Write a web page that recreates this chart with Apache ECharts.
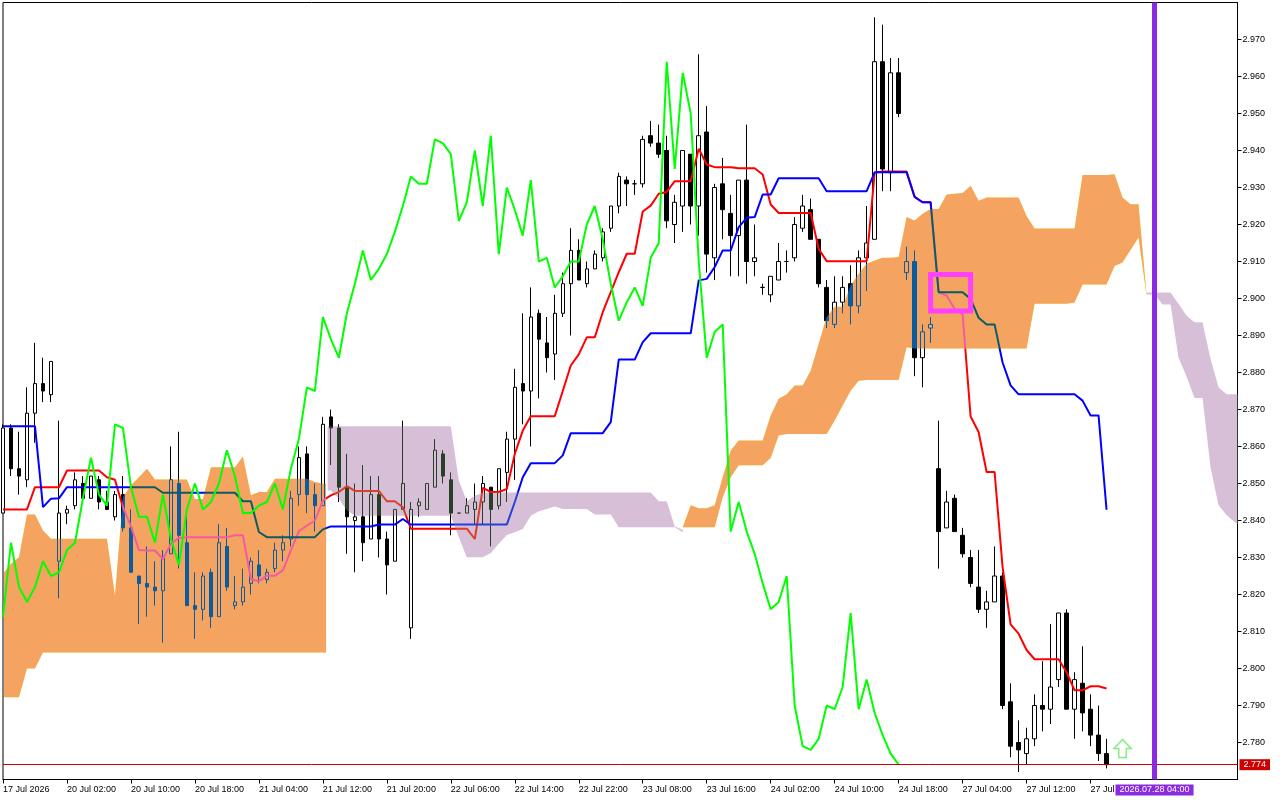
<!DOCTYPE html>
<html><head><meta charset="utf-8">
<style>html,body{margin:0;padding:0;background:#fff}#c{width:1280px;height:800px}</style>
<script src="https://cdn.jsdelivr.net/npm/echarts@6/dist/echarts.min.js"></script>
</head><body><div id="c"></div>
<script>
const xLabels=['17 Jul 2026','20 Jul 02:00','20 Jul 10:00','20 Jul 18:00','21 Jul 04:00','21 Jul 12:00','21 Jul 20:00','22 Jul 06:00','22 Jul 14:00','22 Jul 22:00','23 Jul 08:00','23 Jul 16:00','24 Jul 02:00','24 Jul 10:00','24 Jul 18:00','27 Jul 04:00','27 Jul 12:00','27 Jul'];
const xLabelBars=[0,8,16,24,32,40,48,56,64,72,80,88,96,104,112,120,128,136];
const opens=[2.842,2.865,2.854,2.851,2.869,2.877,2.874,2.829,2.842,2.844,2.850,2.846,2.851,2.845,2.841,2.847,2.838,2.825,2.823,2.822,2.821,2.831,2.850,2.834,2.817,2.816,2.826,2.814,2.833,2.817,2.818,2.823,2.828,2.824,2.827,2.832,2.835,2.847,2.858,2.847,2.844,2.868,2.865,2.849,2.840,2.841,2.835,2.847,2.835,2.829,2.843,2.811,2.844,2.843,2.849,2.858,2.851,2.842,2.842,2.843,2.845,2.849,2.844,2.853,2.862,2.877,2.875,2.896,2.888,2.885,2.896,2.904,2.913,2.904,2.908,2.911,2.919,2.925,2.932,2.931,2.931,2.944,2.942,2.940,2.920,2.925,2.939,2.925,2.945,2.911,2.931,2.923,2.917,2.932,2.910,2.903,2.901,2.905,2.910,2.911,2.919,2.924,2.916,2.903,2.893,2.899,2.904,2.898,2.911,2.916,2.964,2.934,2.961,2.907,2.910,2.884,2.892,2.854,2.838,2.846,2.836,2.830,2.822,2.816,2.818,2.825,2.791,2.780,2.777,2.781,2.790,2.789,2.797,2.815,2.789,2.796,2.789,2.782,2.777];
const closes=[2.865,2.854,2.852,2.869,2.877,2.875,2.883,2.842,2.843,2.851,2.846,2.852,2.845,2.843,2.847,2.838,2.826,2.823,2.822,2.821,2.830,2.851,2.836,2.817,2.816,2.825,2.814,2.834,2.822,2.818,2.822,2.829,2.825,2.826,2.832,2.834,2.846,2.857,2.847,2.844,2.866,2.865,2.849,2.841,2.841,2.834,2.847,2.835,2.828,2.843,2.850,2.843,2.845,2.850,2.859,2.852,2.842,2.842,2.844,2.845,2.850,2.843,2.854,2.862,2.876,2.875,2.895,2.889,2.884,2.896,2.904,2.913,2.905,2.908,2.912,2.918,2.925,2.933,2.931,2.931,2.943,2.942,2.939,2.921,2.926,2.940,2.925,2.944,2.912,2.930,2.924,2.917,2.932,2.910,2.911,2.903,2.906,2.910,2.910,2.920,2.925,2.916,2.904,2.894,2.899,2.903,2.898,2.911,2.915,2.964,2.935,2.961,2.950,2.910,2.884,2.891,2.893,2.837,2.845,2.837,2.831,2.823,2.816,2.818,2.825,2.790,2.779,2.778,2.781,2.790,2.789,2.795,2.815,2.789,2.797,2.788,2.782,2.777,2.774];
const lows=[2.842,2.852,2.847,2.849,2.861,2.872,2.872,2.819,2.839,2.843,2.846,2.846,2.843,2.843,2.840,2.837,2.826,2.812,2.814,2.817,2.807,2.831,2.827,2.817,2.808,2.813,2.811,2.814,2.821,2.816,2.817,2.820,2.823,2.823,2.826,2.829,2.833,2.844,2.842,2.837,2.844,2.855,2.845,2.831,2.826,2.829,2.835,2.830,2.820,2.829,2.843,2.808,2.841,2.843,2.849,2.850,2.836,2.842,2.842,2.839,2.839,2.833,2.843,2.845,2.851,2.866,2.860,2.873,2.880,2.878,2.895,2.890,2.905,2.903,2.908,2.910,2.918,2.923,2.925,2.928,2.930,2.941,2.938,2.919,2.915,2.918,2.920,2.917,2.907,2.905,2.916,2.906,2.906,2.904,2.906,2.901,2.899,2.905,2.907,2.910,2.918,2.916,2.903,2.892,2.892,2.896,2.893,2.896,2.902,2.916,2.929,2.929,2.949,2.905,2.879,2.876,2.888,2.827,2.838,2.837,2.830,2.822,2.815,2.811,2.818,2.789,2.776,2.772,2.774,2.779,2.783,2.785,2.795,2.789,2.781,2.783,2.779,2.775,2.773];
const highs=[2.866,2.866,2.864,2.876,2.888,2.884,2.883,2.867,2.844,2.853,2.852,2.852,2.852,2.848,2.848,2.852,2.843,2.825,2.833,2.829,2.832,2.860,2.864,2.841,2.826,2.826,2.827,2.839,2.838,2.825,2.827,2.830,2.832,2.827,2.834,2.836,2.848,2.860,2.860,2.850,2.868,2.870,2.866,2.858,2.850,2.855,2.852,2.852,2.837,2.843,2.867,2.845,2.846,2.850,2.862,2.859,2.853,2.842,2.846,2.850,2.852,2.849,2.854,2.864,2.881,2.896,2.903,2.897,2.895,2.901,2.907,2.919,2.916,2.910,2.913,2.919,2.925,2.934,2.933,2.932,2.944,2.948,2.947,2.944,2.928,2.940,2.939,2.966,2.952,2.931,2.938,2.928,2.932,2.947,2.920,2.904,2.906,2.915,2.913,2.922,2.928,2.927,2.916,2.905,2.906,2.906,2.909,2.913,2.925,2.976,2.974,2.965,2.965,2.914,2.913,2.893,2.895,2.867,2.848,2.847,2.838,2.832,2.832,2.821,2.833,2.826,2.796,2.786,2.784,2.793,2.802,2.812,2.815,2.816,2.799,2.806,2.793,2.790,2.781];
const tenkan=[2.843,2.843,2.843,2.843,2.849,2.849,2.849,2.849,2.8535,2.8535,2.8535,2.8535,2.8535,2.8517,2.851,2.8436,2.8385,2.832,2.8319,2.8319,2.8296,2.8337,2.8353,2.8355,2.8355,2.8355,2.8355,2.8355,2.8355,2.836,2.836,2.8242,2.8236,2.8251,2.8251,2.8265,2.8319,2.8371,2.8386,2.84,2.8454,2.8468,2.8477,2.8493,2.848,2.848,2.848,2.848,2.8452,2.8452,2.8436,2.8378,2.8378,2.8378,2.8378,2.8378,2.8378,2.8378,2.8378,2.835,2.8488,2.8477,2.8477,2.8485,2.858,2.8643,2.8682,2.8682,2.8682,2.8682,2.875,2.8819,2.8849,2.8895,2.8895,2.8963,2.9017,2.9071,2.9121,2.9121,2.9235,2.9251,2.9283,2.9288,2.9317,2.9317,2.9317,2.9405,2.9362,2.9355,2.9355,2.9355,2.9352,2.9352,2.9352,2.9335,2.9254,2.9231,2.9231,2.9231,2.9231,2.9231,2.9134,2.9101,2.9101,2.9101,2.9101,2.9101,2.9101,2.934,2.9343,2.9343,2.9343,2.9343,2.9274,2.926,2.926,2.9017,2.9008,2.8972,2.8958,2.8681,2.8639,2.8531,2.8531,2.8274,2.8119,2.8094,2.805,2.8025,2.8025,2.8025,2.8025,2.799,2.7941,2.7941,2.7952,2.7952,2.7946];
const kijun=[2.8655,2.8655,2.8655,2.8655,2.8655,2.8436,2.8459,2.846,2.849,2.849,2.849,2.849,2.849,2.849,2.849,2.849,2.849,2.849,2.849,2.849,2.8475,2.8475,2.8475,2.8475,2.8475,2.8475,2.8475,2.8475,2.8475,2.8475,2.8452,2.8452,2.8369,2.8355,2.8355,2.8355,2.8355,2.8355,2.8355,2.8355,2.8376,2.8384,2.8384,2.8384,2.8384,2.8384,2.8384,2.8389,2.8389,2.8389,2.8404,2.8389,2.8389,2.8389,2.8389,2.8389,2.8389,2.8389,2.8389,2.8389,2.8389,2.8389,2.8389,2.8389,2.845,2.8517,2.8555,2.8555,2.8555,2.8555,2.8576,2.8636,2.8636,2.8636,2.8636,2.8636,2.8666,2.8835,2.8835,2.8835,2.8882,2.8906,2.8906,2.8906,2.8906,2.8906,2.8906,2.9049,2.9053,2.9085,2.913,2.913,2.9193,2.9218,2.922,2.9281,2.9281,2.9325,2.9325,2.9325,2.9325,2.9325,2.9325,2.929,2.929,2.929,2.929,2.929,2.929,2.9341,2.9341,2.9341,2.9341,2.9341,2.9275,2.926,2.926,2.9017,2.9017,2.9017,2.9017,2.8999,2.8948,2.893,2.893,2.8827,2.8765,2.8741,2.8741,2.8741,2.8741,2.8741,2.8741,2.8741,2.8741,2.8724,2.8684,2.8684,2.8429];
const chikou=[2.814,2.834,2.822,2.818,2.822,2.829,2.825,2.826,2.832,2.834,2.846,2.857,2.847,2.844,2.866,2.865,2.849,2.841,2.841,2.834,2.847,2.835,2.828,2.843,2.850,2.843,2.845,2.850,2.859,2.852,2.842,2.842,2.844,2.845,2.850,2.843,2.854,2.862,2.876,2.875,2.895,2.889,2.884,2.896,2.904,2.913,2.905,2.908,2.912,2.918,2.925,2.933,2.931,2.931,2.943,2.942,2.939,2.921,2.926,2.940,2.925,2.944,2.912,2.930,2.924,2.917,2.932,2.910,2.911,2.903,2.906,2.910,2.910,2.920,2.925,2.916,2.904,2.894,2.899,2.903,2.898,2.911,2.915,2.964,2.935,2.961,2.950,2.910,2.884,2.891,2.893,2.837,2.845,2.837,2.831,2.823,2.816,2.818,2.825,2.790,2.779,2.778,2.781,2.790,2.789,2.795,2.815,2.789,2.797,2.788,2.782,2.777,2.774];
const cloud1Start=0;
const cloud1Top=[2.8256,2.8283,2.8301,2.8416,2.8416,2.8373,2.8351,2.8351,2.8351,2.8351,2.8351,2.8351,2.8351,2.8351,2.8197,2.8463,2.8495,2.8517,2.854,2.8511,2.8511,2.8511,2.8511,2.8511,2.8458,2.8458,2.8544,2.8544,2.8544,2.8544,2.8573,2.8468,2.8477,2.8477,2.8513,2.8513,2.8513,2.8513,2.8513,2.8504,2.8499];
const cloud1Bottom=[2.7922,2.7922,2.7922,2.8,2.8,2.8043,2.8043,2.8043,2.8043,2.8043,2.8043,2.8043,2.8043,2.8043,2.8043,2.8043,2.8043,2.8043,2.8043,2.8043,2.8043,2.8043,2.8043,2.8043,2.8043,2.8043,2.8043,2.8043,2.8043,2.8043,2.8043,2.8043,2.8043,2.8043,2.8043,2.8043,2.8043,2.8043,2.8043,2.8043,2.8043];
const cloud2Start=41;
const cloud2Top=[2.8655,2.8655,2.8655,2.8655,2.8655,2.8655,2.8655,2.8655,2.8655,2.8655,2.8655,2.8655,2.8655,2.8655,2.8655,2.8655,2.8508,2.8452,2.8467,2.8475,2.8476,2.8476,2.8476,2.8476,2.8476,2.8476,2.8476,2.8476,2.8476,2.8476,2.8476,2.8476,2.8476,2.8476,2.8476,2.8476,2.8476,2.8476,2.8476,2.8476,2.8476,2.8452,2.8452,2.8384,2.8375];
const cloud2Bottom=[2.8481,2.8459,2.8427,2.8413,2.8413,2.8413,2.8413,2.8413,2.8413,2.8413,2.8413,2.8413,2.8413,2.8413,2.8413,2.8413,2.8355,2.8301,2.8301,2.8301,2.8312,2.8337,2.8361,2.8368,2.8377,2.8413,2.8425,2.8431,2.8438,2.8431,2.8431,2.8431,2.8431,2.8416,2.8416,2.8416,2.8382,2.8382,2.8382,2.8382,2.8382,2.8382,2.8382,2.8382,2.8368];
const cloud3Start=85;
const cloud3Top=[2.8382,2.8441,2.8433,2.8433,2.8441,2.8517,2.8589,2.8616,2.8616,2.8616,2.8616,2.8684,2.8729,2.8741,2.8765,2.8765,2.8805,2.8878,2.895,2.8978,2.8978,2.9035,2.9067,2.9094,2.9103,2.911,2.911,2.9112,2.922,2.9211,2.9229,2.9242,2.9242,2.9281,2.9283,2.9285,2.9305,2.9264,2.9273,2.9273,2.9273,2.9273,2.9273,2.9223,2.9189,2.9189,2.9189,2.9189,2.9189,2.9189,2.9334,2.9334,2.9334,2.9334,2.9336,2.9273,2.9255,2.9255,2.9011];
const cloud3Bottom=[2.8382,2.8382,2.8382,2.8382,2.8382,2.8463,2.8517,2.8549,2.8549,2.8549,2.8549,2.8569,2.863,2.8634,2.8634,2.8634,2.8634,2.8634,2.8634,2.867,2.8711,2.8751,2.8778,2.878,2.878,2.878,2.878,2.878,2.8868,2.8865,2.8865,2.8865,2.8865,2.8865,2.8865,2.8865,2.8865,2.8865,2.8865,2.8865,2.8865,2.8865,2.8865,2.8865,2.8986,2.8986,2.8986,2.8986,2.8986,2.8989,2.9038,2.9038,2.9038,2.9038,2.9088,2.9097,2.9131,2.9165,2.9009];
const cloud4Start=143;
const cloud4Top=[2.9016,2.9016,2.9016,2.9016,2.8986,2.8954,2.8936,2.8936,2.8837,2.876,2.8741,2.8741,2.8741];
const cloud4Bottom=[2.9011,2.9011,2.8984,2.8984,2.884,2.8789,2.8731,2.8731,2.8544,2.8441,2.8415,2.8396,2.838];
const lastPrice=2.774;
const cursorBar=144;
const cursorLabel='2026.07.28 04:00';
const boxBars=[116,121];
const boxPrices=[2.9065,2.8966];
const arrowPoint=[140,2.7784];

const FONT='"Liberation Sans",Arial,sans-serif';
const X_MAX=154.375;
// The cloud inverts whatever lies under it (white -> cloud colour, black -> its complement),
// done linearly in passes so anti-aliased line edges stay clean.
const ORANGE={invert:'#0000FF',scale:'#E9493F',add:'#0B5B60'};
const THISTLE={invert:'#000000',scale:'#B17FB1',add:'#274027'};
const regions=[
 {s:cloud1Start,t:cloud1Top,b:cloud1Bottom,c:ORANGE,padL:0,padR:0.4},
 {s:cloud2Start,t:cloud2Top,b:cloud2Bottom,c:THISTLE,padL:0.4,padR:0},
 {s:cloud3Start,t:cloud3Top,b:cloud3Bottom,c:ORANGE,padL:0,padR:0},
 {s:cloud4Start,t:cloud4Top,b:cloud4Bottom,c:THISTLE,padL:0,padR:0}
];
const cloudPass=(blend,key,z)=>({type:'custom',name:'Cloud '+key,z,silent:true,clip:true,blendMode:blend,data:regions.map((r,i)=>[i]),
 renderItem:(params,api)=>{
  const r=regions[api.value(0)],pts=[];
  pts.push(api.coord([r.s-r.padL,r.t[0]]));
  r.t.forEach((v,i)=>pts.push(api.coord([r.s+i,v])));
  const e=r.s+r.t.length-1;
  pts.push(api.coord([e+r.padR,r.t[r.t.length-1]]));
  pts.push(api.coord([e+r.padR,r.b[r.b.length-1]]));
  for(let i=r.b.length-1;i>=0;i--)pts.push(api.coord([r.s+i,r.b[i]]));
  pts.push(api.coord([r.s-r.padL,r.b[0]]));
  return {type:'polygon',shape:{points:pts},style:{fill:r.c[key]}};
 }});
const chart=echarts.init(document.getElementById('c'),null,{renderer:'canvas'});
const pairs=a=>a.map((v,i)=>[i,v]);
chart.setOption({
 animation:false,backgroundColor:'#ffffff',
 grid:{left:2.5,top:2.5,width:1235,height:777,show:true,borderColor:'#000',borderWidth:1,backgroundColor:'transparent'},
 xAxis:{type:'value',min:0,max:X_MAX,interval:8,splitLine:{show:false},
  axisLine:{show:true,onZero:false,lineStyle:{color:'#000',width:1}},
  axisTick:{show:true,length:4,lineStyle:{color:'#000',width:1},customValues:xLabelBars},
  axisLabel:{show:true,align:'left',margin:6,color:'#000',fontFamily:FONT,fontSize:9,hideOverlap:false,customValues:xLabelBars,
   formatter:v=>xLabels[xLabelBars.indexOf(v)]||''}},
 yAxis:{type:'value',position:'right',min:2.77,max:2.98,interval:0.01,scale:true,splitLine:{show:false},
  axisLine:{show:true,onZero:false,lineStyle:{color:'#000',width:1}},
  axisTick:{show:true,length:4,lineStyle:{color:'#000',width:1}},
  axisLabel:{show:true,margin:5,color:'#000',fontFamily:FONT,fontSize:9,showMinLabel:false,showMaxLabel:false,formatter:v=>v.toFixed(3)}},
 series:[
  {type:'candlestick',z:2,barWidth:4,silent:true,
   itemStyle:{color:'#fff',color0:'#000',borderColor:'#000',borderColor0:'#000',borderColorDoji:'#000',borderWidth:1},
   data:closes.map((c,i)=>[i,opens[i],c,lows[i],highs[i]])},
  {type:'line',name:'Tenkan',z:3,data:pairs(tenkan),showSymbol:false,silent:true,lineStyle:{color:'#FF0000',width:2}},
  {type:'line',name:'Kijun',z:3,data:pairs(kijun),showSymbol:false,silent:true,lineStyle:{color:'#0000FF',width:2}},
  cloudPass('difference','invert',4),
  cloudPass('multiply','scale',5),
  cloudPass('lighter','add',6),
  {type:'line',name:'Chikou',z:7,data:pairs(chikou),showSymbol:false,silent:true,lineStyle:{color:'#00FF00',width:2}},
  {type:'scatter',name:'Arrow',z:9,silent:true,data:[arrowPoint],symbol:'path://M50,0 L100,50 L72,50 L72,100 L28,100 L28,50 L0,50 Z',symbolSize:[17,18],
   itemStyle:{color:'#fff',borderColor:'#66E866',borderWidth:1.5}},
  {type:'line',name:'Marks',z:8,data:pairs(closes),silent:true,showSymbol:false,lineStyle:{width:0,opacity:0},
   markLine:{silent:true,symbol:'none',animation:false,z:8,data:[
     [{coord:[0,lastPrice],lineStyle:{color:'#CC0000',width:1,type:'solid'},
       label:{show:true,position:'end',distance:2,formatter:lastPrice.toFixed(3),color:'#fff',backgroundColor:'#CC0000',padding:[1,4,1,4],fontFamily:FONT,fontSize:9}},
      {coord:[X_MAX,lastPrice]}],
     {xAxis:cursorBar,lineStyle:{color:'#8A2BE2',width:5,type:'solid'},
      label:{show:true,position:'start',distance:5,formatter:cursorLabel,color:'#fff',backgroundColor:'#8A2BE2',padding:[1,4,1,4],fontFamily:FONT,fontSize:9}}
   ]},
   markArea:{silent:true,animation:false,z:8,
    itemStyle:{color:'transparent',borderColor:'#FF40FF',borderWidth:5},label:{show:false},
    data:[[{xAxis:boxBars[0],yAxis:boxPrices[0]},{xAxis:boxBars[1],yAxis:boxPrices[1]}]]}}
 ]
});
</script></body></html>
